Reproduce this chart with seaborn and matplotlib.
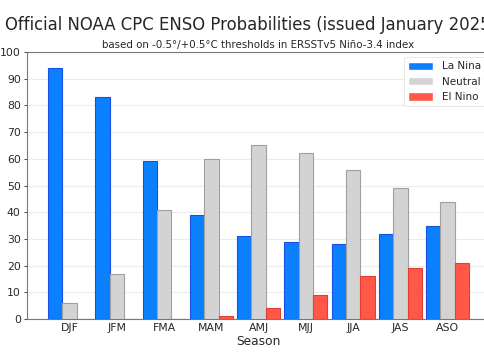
import numpy as np
import matplotlib
matplotlib.use('Agg')
import matplotlib.pyplot as plt
import pandas as pd
import seaborn as sns

# seasons and probabilities (%)
seasons = ['DJF', 'JFM', 'FMA', 'MAM', 'AMJ', 'MJJ', 'JJA', 'JAS', 'ASO']
la_nina = [94, 83, 59, 39, 31, 29, 28, 32, 35]
neutral = [6, 17, 41, 60, 65, 62, 56, 49, 44]
el_nino = [0, 0, 0, 1, 4, 9, 16, 19, 21]

categories = ['La Nina', 'Neutral', 'El Nino']
face_colors = ['#0a80ff', '#d3d3d3', '#ff5748']
edge_colors = ['#1a4fe0', '#a0a0a0', '#e0402f']

df = pd.DataFrame({'Season': seasons, 'La Nina': la_nina,
                   'Neutral': neutral, 'El Nino': el_nino})
df = df.melt(id_vars='Season', var_name='Category', value_name='Prob')

sns.set_style('white')
plt.rcParams['font.family'] = ['DejaVu Sans']

fig = plt.figure(figsize=(4.85, 3.55), dpi=100)
ax = fig.add_axes([0.0557, 0.1014, 0.955, 0.752])

sns.barplot(data=df, x='Season', y='Prob', hue='Category',
            hue_order=categories, palette=face_colors, saturation=1,
            width=0.91, order=seasons, ax=ax, zorder=3)

# edge colours per series
for cont, ec in zip(ax.containers, edge_colors):
    for bar in cont:
        bar.set_edgecolor(ec)
        bar.set_linewidth(0.8)

ax.set_xlim(-0.9, 8.9)
ax.set_ylim(0, 100)
ax.set_yticks(range(0, 101, 10))
ax.yaxis.grid(True, color='#ececec', linewidth=0.8, zorder=0)
ax.tick_params(axis='y', labelsize=7.8, length=2.5, width=0.6, pad=2, left=True)
ax.tick_params(axis='x', labelsize=7.8, length=0, pad=3)
ax.set_xlabel('Season', fontsize=8.8, labelpad=1)
ax.set_ylabel('')
for s in ax.spines.values():
    s.set_color('#777777')
    s.set_linewidth(0.8)
ax.spines['right'].set_visible(False)

ax.set_title('based on -0.5°/+0.5°C thresholds in ERSSTv5 Niño-3.4 index',
             fontsize=7.4, pad=3)
fig.text(0.01, 0.905, 'Official NOAA CPC ENSO Probabilities (issued January 2025)',
         fontsize=11.9, ha='left', va='bottom')

leg = ax.legend(loc='upper right', fontsize=7.5, frameon=True,
                handlelength=2.4, handleheight=0.9, borderaxespad=0.5)
leg.get_frame().set_edgecolor('#dddddd')
leg.get_frame().set_linewidth(0.6)
leg.set_title(None)

fig.savefig('out.png', dpi=100)
